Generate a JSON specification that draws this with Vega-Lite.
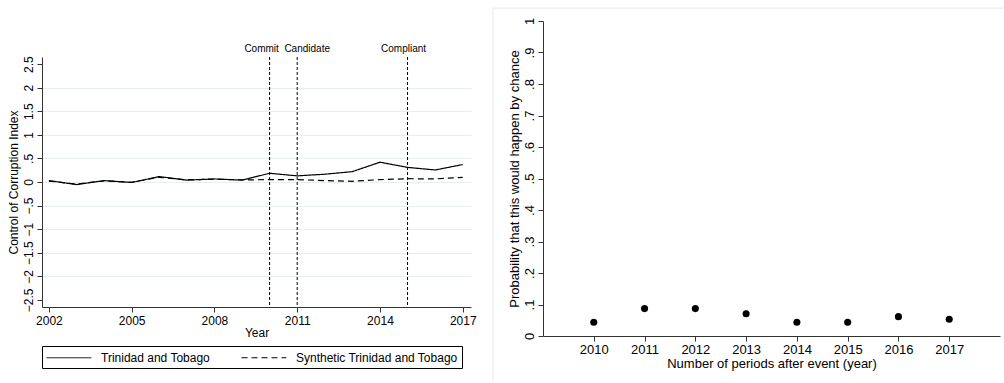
{
  "$schema": "https://vega.github.io/schema/vega-lite/v6.json",
  "padding": {"left": 7, "top": 7, "right": 0, "bottom": 0},
  "background": "white",
  "spacing": 15,
  "config": {
    "view": {"stroke": null},
    "font": "Liberation Sans",
    "axis": {
      "domainColor": "#333333",
      "tickColor": "#333333",
      "tickSize": 5,
      "labelColor": "black",
      "titleColor": "black",
      "titleFontWeight": "normal",
      "labelFont": "Liberation Sans",
      "titleFont": "Liberation Sans",
      "gridColor": "#e6eef0",
      "labelOverlap": false,
      "labelFlush": false,
      "tickCount": 30
    },
    "legend": {"labelFont": "Liberation Sans"}
  },
  "hconcat": [
    {
      "spacing": 0,
      "resolve": {"legend": {"strokeDash": "independent"}},
      "vconcat": [
        {
          "width": 10,
          "height": 22,
          "data": {"values": []},
          "mark": {"type": "point", "opacity": 0},
          "encoding": {}
        },
        {
          "width": 429,
          "height": 250,
          "data": {"values": [
            {"year": 2002, "series": "Trinidad and Tobago", "value": 0.03},
            {"year": 2003, "series": "Trinidad and Tobago", "value": -0.055},
            {"year": 2004, "series": "Trinidad and Tobago", "value": 0.03},
            {"year": 2005, "series": "Trinidad and Tobago", "value": -0.01},
            {"year": 2006, "series": "Trinidad and Tobago", "value": 0.115},
            {"year": 2007, "series": "Trinidad and Tobago", "value": 0.04},
            {"year": 2008, "series": "Trinidad and Tobago", "value": 0.065},
            {"year": 2009, "series": "Trinidad and Tobago", "value": 0.04},
            {"year": 2010, "series": "Trinidad and Tobago", "value": 0.185},
            {"year": 2011, "series": "Trinidad and Tobago", "value": 0.13},
            {"year": 2012, "series": "Trinidad and Tobago", "value": 0.165},
            {"year": 2013, "series": "Trinidad and Tobago", "value": 0.22},
            {"year": 2014, "series": "Trinidad and Tobago", "value": 0.42},
            {"year": 2015, "series": "Trinidad and Tobago", "value": 0.31},
            {"year": 2016, "series": "Trinidad and Tobago", "value": 0.255},
            {"year": 2017, "series": "Trinidad and Tobago", "value": 0.37},
            {"year": 2002, "series": "Synthetic Trinidad and Tobago", "value": 0.02},
            {"year": 2003, "series": "Synthetic Trinidad and Tobago", "value": -0.045},
            {"year": 2004, "series": "Synthetic Trinidad and Tobago", "value": 0.025},
            {"year": 2005, "series": "Synthetic Trinidad and Tobago", "value": -0.005},
            {"year": 2006, "series": "Synthetic Trinidad and Tobago", "value": 0.1},
            {"year": 2007, "series": "Synthetic Trinidad and Tobago", "value": 0.045},
            {"year": 2008, "series": "Synthetic Trinidad and Tobago", "value": 0.06},
            {"year": 2009, "series": "Synthetic Trinidad and Tobago", "value": 0.045},
            {"year": 2010, "series": "Synthetic Trinidad and Tobago", "value": 0.05},
            {"year": 2011, "series": "Synthetic Trinidad and Tobago", "value": 0.05},
            {"year": 2012, "series": "Synthetic Trinidad and Tobago", "value": 0.03},
            {"year": 2013, "series": "Synthetic Trinidad and Tobago", "value": 0.015},
            {"year": 2014, "series": "Synthetic Trinidad and Tobago", "value": 0.05},
            {"year": 2015, "series": "Synthetic Trinidad and Tobago", "value": 0.07},
            {"year": 2016, "series": "Synthetic Trinidad and Tobago", "value": 0.065},
            {"year": 2017, "series": "Synthetic Trinidad and Tobago", "value": 0.1}
          ]},
          "layer": [
            {
              "mark": {"type": "line", "color": "black", "strokeWidth": 1.2},
              "encoding": {
                "x": {
                  "field": "year", "type": "quantitative",
                  "scale": {"domain": [2001.75, 2017.3], "nice": false, "zero": false},
                  "axis": {"values": [2002, 2005, 2008, 2011, 2014, 2017], "format": "d", "grid": false,
                           "title": "Year", "labelFontSize": 12, "titleFontSize": 12, "labelPadding": 3, "titlePadding": 1}
                },
                "y": {
                  "field": "value", "type": "quantitative",
                  "scale": {"domain": [-2.65, 2.65], "nice": false, "zero": false},
                  "axis": {
                    "values": [-2.5, -2, -1.5, -1, -0.5, 0, 0.5, 1, 1.5, 2, 2.5],
                    "tickCount": 30,
                    "title": "Control of Corruption Index",
                    "labelExpr": "replace(format(datum.value, '.1~f'), '0.', '.')",
                    "labelOverlap": false,
                    "labelAngle": 270, "labelAlign": "center", "labelBaseline": "bottom",
                    "labelFontSize": 12, "titleFontSize": 12, "labelPadding": 2, "titlePadding": 2,
                    "gridColor": {"condition": {"test": "abs(datum.value) > 2.4", "value": "transparent"}, "value": "#e6eef0"}
                  }
                },
                "strokeDash": {
                  "field": "series", "type": "nominal",
                  "scale": {"domain": ["Trinidad and Tobago", "Synthetic Trinidad and Tobago"], "range": [[1, 0], [6, 4]]},
                  "legend": {
                    "title": null, "orient": "bottom", "direction": "horizontal",
                    "strokeColor": "black", "fillColor": "white", "padding": 4,
                    "symbolType": "M-1,0H5.4", "symbolSize": 196, "symbolStrokeWidth": 1,
                    "symbolStrokeColor": "black", "symbolFillColor": "transparent",
                    "labelFontSize": 12, "labelColor": "black", "labelOffset": 40, "labelLimit": 400,
                    "columnPadding": 29, "offset": 8
                  }
                }
              }
            },
            {
              "data": {"values": [
                {"year": 2010, "event": "Commit"},
                {"year": 2011, "event": "Candidate"},
                {"year": 2015, "event": "Compliant"}
              ]},
              "mark": {"type": "rule", "color": "black", "strokeWidth": 1, "strokeDash": [3, 2]},
              "encoding": {"x": {"field": "year", "type": "quantitative"}}
            },
            {
              "data": {"values": [{"year": 2010, "event": "Commit"}]},
              "mark": {"type": "text", "fontSize": 10, "baseline": "middle", "dx": -8, "color": "black"},
              "encoding": {"x": {"field": "year", "type": "quantitative"}, "y": {"datum": 2.82}, "text": {"field": "event"}}
            },
            {
              "data": {"values": [{"year": 2011, "event": "Candidate"}]},
              "mark": {"type": "text", "fontSize": 10, "baseline": "middle", "dx": 10, "color": "black"},
              "encoding": {"x": {"field": "year", "type": "quantitative"}, "y": {"datum": 2.82}, "text": {"field": "event"}}
            },
            {
              "data": {"values": [{"year": 2015, "event": "Compliant"}]},
              "mark": {"type": "text", "fontSize": 10, "baseline": "middle", "dx": -4, "color": "black"},
              "encoding": {"x": {"field": "year", "type": "quantitative"}, "y": {"datum": 2.82}, "text": {"field": "event"}}
            }
          ]
        }
      ]
    },
    {
      "width": 457,
      "height": 315,
      "layer": [
        {
          "data": {"values": [{"edge": "left"}]},
          "mark": {"type": "rule", "color": "#e3ebee", "strokeWidth": 1},
          "encoding": {
            "x": {"datum": 2008.016, "type": "quantitative"},
            "y": {"datum": -0.147, "type": "quantitative"},
            "y2": {"datum": 1.041}
          }
        },
        {
          "data": {"values": [{"edge": "top"}]},
          "mark": {"type": "rule", "color": "#e3ebee", "strokeWidth": 1},
          "encoding": {
            "x": {"datum": 2008.016, "type": "quantitative"},
            "x2": {"datum": 2018.06},
            "y": {"datum": 1.041, "type": "quantitative"}
          }
        },
        {
          "data": {"values": [
            {"year": 2010, "prob": 0.0435},
            {"year": 2011, "prob": 0.087},
            {"year": 2012, "prob": 0.087},
            {"year": 2013, "prob": 0.0705},
            {"year": 2014, "prob": 0.0435},
            {"year": 2015, "prob": 0.0435},
            {"year": 2016, "prob": 0.0615},
            {"year": 2017, "prob": 0.053}
          ]},
          "mark": {"type": "point", "filled": true, "color": "black", "opacity": 1, "size": 50},
          "encoding": {
            "x": {
              "field": "year", "type": "quantitative",
              "scale": {"domain": [2009, 2018], "nice": false, "zero": false},
              "axis": {"values": [2010, 2011, 2012, 2013, 2014, 2015, 2016, 2017], "format": "d", "grid": false,
                       "title": "Number of periods after event (year)", "labelFontSize": 13, "titleFontSize": 13,
                       "labelPadding": 2, "titlePadding": 1}
            },
            "y": {
              "field": "prob", "type": "quantitative",
              "scale": {"domain": [0, 1], "nice": false, "zero": false},
              "axis": {
                "values": [0, 0.1, 0.2, 0.3, 0.4, 0.5, 0.6, 0.7, 0.8, 0.9, 1],
                "tickCount": 30,
                "title": "Probability that this would happen by chance",
                "labelExpr": "replace(format(datum.value, '.1~f'), '0.', '.')",
                "labelOverlap": false,
                "labelAngle": 270, "labelAlign": "center", "labelBaseline": "bottom",
                "labelFontSize": 13, "titleFontSize": 13, "labelPadding": 2, "titlePadding": 2,
                "gridColor": {"condition": {"test": "datum.value == 0 || datum.value == 1", "value": "transparent"}, "value": "#e6eef0"}
              }
            }
          }
        }
      ]
    }
  ]
}
